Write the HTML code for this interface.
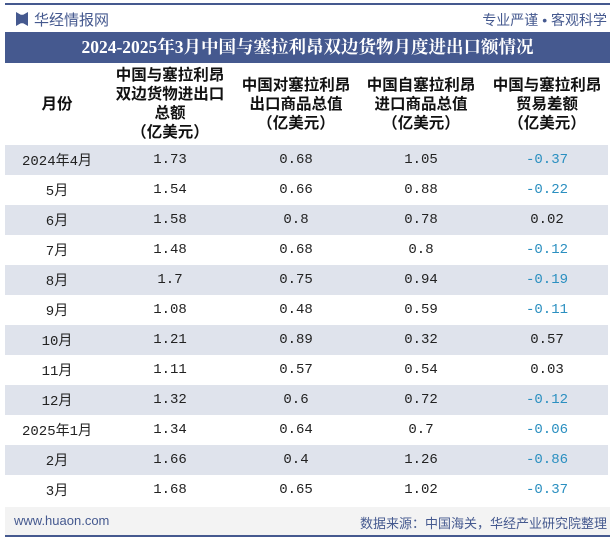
<!DOCTYPE html>
<html><head><meta charset="utf-8"><style>
body{margin:0;width:615px;height:540px;background:#fff;position:relative;overflow:hidden;font-family:"Liberation Sans","Noto Sans CJK SC",sans-serif}
.abs{position:absolute}
.row{position:absolute;left:5px;width:603px;height:30px;display:flex;align-items:center}
.row div{position:absolute;transform:translateX(-50%);white-space:nowrap;font-family:"Liberation Mono","Noto Sans CJK SC",monospace;font-size:14px;color:#222}
.neg{color:#2a8fc0!important}
.hd{position:absolute;top:63px;height:82px;display:flex;align-items:center;justify-content:center;text-align:center;font-weight:bold;font-size:15.5px;line-height:19px;color:#111;transform:translateX(-50%);white-space:nowrap;font-family:"Liberation Sans","Noto Sans CJK SC",sans-serif}
</style></head><body>
<div class="abs" style="left:5px;top:3px;width:605px;height:2px;background:#45598f"></div>
<div class="abs" style="left:16px;top:12px;width:12px;height:14px;background:#45598f;clip-path:polygon(0 0,40% 20%,60% 20%,100% 0,100% 100%,60% 80%,40% 80%,0 100%)"></div>
<div class="abs" style="left:34px;top:9px;font-size:15px;color:#45598f">华经情报网</div>
<div class="abs" style="right:8px;top:10px;font-size:14px;color:#45598f">专业严谨 • 客观科学</div>
<div class="abs" style="left:5px;top:32px;width:605px;height:31px;background:#45598f;color:#fff;font-weight:bold;font-size:17.5px;line-height:31px;text-align:center;font-family:'Liberation Serif','Noto Serif CJK SC',serif">2024-2025年3月中国与塞拉利昂双边货物月度进出口额情况</div>
<div class="hd" style="left:57px">月份</div>
<div class="hd" style="left:170px">中国与塞拉利昂<br>双边货物进出口<br>总额<br>（亿美元）</div>
<div class="hd" style="left:296px">中国对塞拉利昂<br>出口商品总值<br>（亿美元）</div>
<div class="hd" style="left:421px">中国自塞拉利昂<br>进口商品总值<br>（亿美元）</div>
<div class="hd" style="left:547px">中国与塞拉利昂<br>贸易差额<br>（亿美元）</div>
<div id="rows"></div>
<div class="abs" style="left:5px;top:507px;width:605px;height:28px;background:#f3f3f3"></div>
<div class="abs" style="left:14px;top:513px;font-size:13px;color:#45598f">www.huaon.com</div>
<div class="abs" style="right:8px;top:513px;font-size:13px;color:#45598f">数据来源：中国海关，华经产业研究院整理</div>
<div class="abs" style="left:5px;top:535px;width:605px;height:2px;background:#45598f"></div>
<script>
const months=["2024年4月","5月","6月","7月","8月","9月","10月","11月","12月","2025年1月","2月","3月"];
const totals=["1.73","1.54","1.58","1.48","1.7","1.08","1.21","1.11","1.32","1.34","1.66","1.68"];
const exportsV=["0.68","0.66","0.8","0.68","0.75","0.48","0.89","0.57","0.6","0.64","0.4","0.65"];
const importsV=["1.05","0.88","0.78","0.8","0.94","0.59","0.32","0.54","0.72","0.7","1.26","1.02"];
const balance=["-0.37","-0.22","0.02","-0.12","-0.19","-0.11","0.57","0.03","-0.12","-0.06","-0.86","-0.37"];
const cx=[52,165,291,416,542];
const wrap=document.getElementById('rows');
months.forEach((m,i)=>{
  const r=document.createElement('div');
  r.className='row';
  
  
  r.style.top=(145+i*30)+'px';
  r.style.background=i%2===0?'#dfe3ec':'transparent';
  [m,totals[i],exportsV[i],importsV[i],balance[i]].forEach((v,j)=>{
    const c=document.createElement('div');
    
    
    c.textContent=v;
    c.style.left=cx[j]+'px';
    if(j===4&&v.startsWith('-'))c.className='neg';
    r.appendChild(c);
  });
  wrap.appendChild(r);
});
</script>
</body></html>
